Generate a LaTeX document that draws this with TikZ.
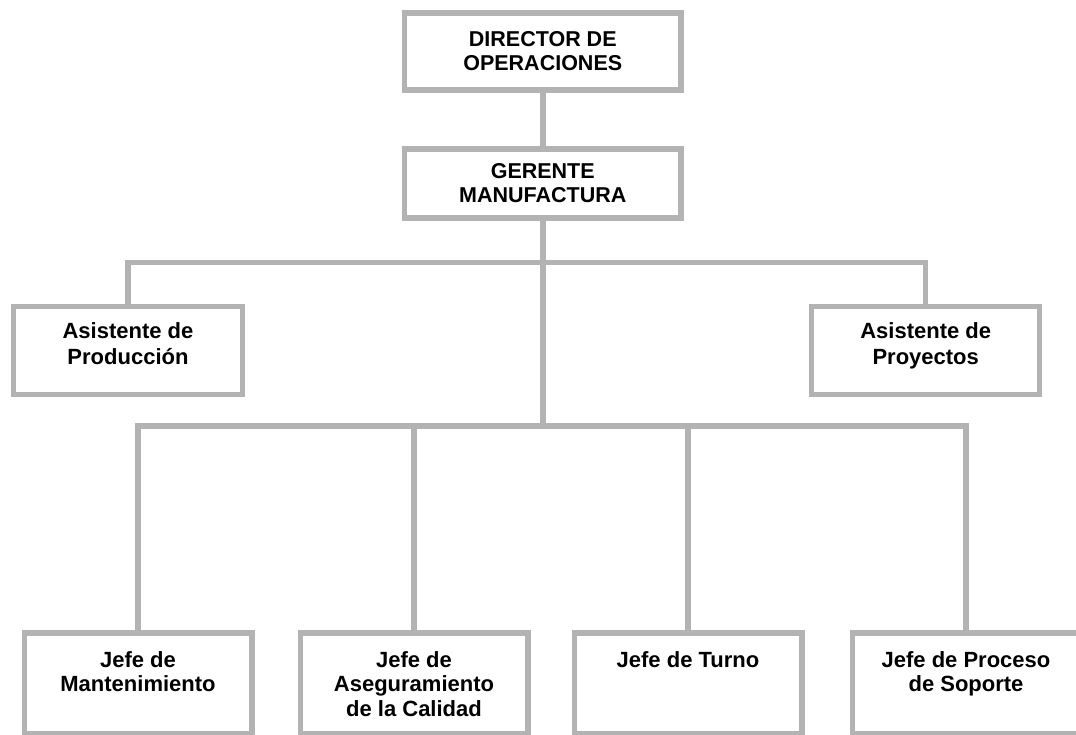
\documentclass[tikz,border=0pt]{standalone}
\usepackage{fontspec}
\setmainfont{Liberation Sans}
\usetikzlibrary{backgrounds}
\definecolor{linegrey}{HTML}{B3B3B3}
\begin{document}
\begin{tikzpicture}[x=1pt,y=-1pt,
  conn/.style={draw=linegrey,line width=5.5pt,line join=miter},
  orgbox/.style={draw=linegrey,fill=white,line width=5.5pt,rectangle,inner sep=0pt},
  lbl/.style={align=center,inner sep=0pt,anchor=north,font=\bfseries\fontsize{22}{24.5}\selectfont},
  caplbl/.style={lbl,font=\bfseries\fontsize{21.5}{24}\selectfont},
  asilbl/.style={lbl,font=\bfseries\fontsize{22}{26}\selectfont}]
\useasboundingbox (0,0) rectangle (1076,734);
\clip (0,0) rectangle (1076,734);
% boxes
\node[orgbox,minimum width=276.5pt,minimum height=77pt] (dir) at (542.75,51.5) {};
\node[orgbox,minimum width=276.5pt,minimum height=69pt] (ger) at (542.75,183.5) {};
\node[orgbox,minimum width=229pt,minimum height=88pt] (ap) at (128,350.25) {};
\node[orgbox,minimum width=228pt,minimum height=88pt] (apr) at (925.7,350.25) {};
\node[orgbox,minimum width=227.5pt,minimum height=101pt] (m1) at (138,683.5) {};
\node[orgbox,minimum width=227.5pt,minimum height=101pt] (m2) at (414,683.5) {};
\node[orgbox,minimum width=227.5pt,minimum height=101pt] (m3) at (688,683.5) {};
\node[orgbox,minimum width=227.5pt,minimum height=101pt] (m4) at (966,683.5) {};
\coordinate (b1) at (542.75,262.6);
\coordinate (b2) at (542.75,426.2);
% connectors behind the boxes
\begin{scope}[on background layer]
\path[conn] (dir.south) -- (ger.north);
\path[conn] (ger.south) -- (b2);
\path[conn] (ap.north) |- (b1) -| (apr.north);
\path[conn] (m1.north) |- (b2) -| (m4.north);
\path[conn] (m2.north) -- (m2.north |- b2);
\path[conn] (m3.north) -- (m3.north |- b2);
\end{scope}
% labels
\node[caplbl] (tdir) at (542.75,31.6) {DIRECTOR DE\\OPERACIONES};
\node[caplbl] (tger) at (542.75,163.3) {GERENTE\\MANUFACTURA};
\node[asilbl] (tap) at (128,322.5) {Asistente de\\Producción};
\node[asilbl] (tapr) at (925.7,322.5) {Asistente de\\Proyectos};
\node[lbl] (tm1) at (138,651.3) {Jefe de\\Mantenimiento};
\node[lbl] (tm2) at (414,651.3) {Jefe de\\Aseguramiento\\de la Calidad};
\node[lbl] (tm3) at (688,651.3) {Jefe de Turno};
\node[lbl] (tm4) at (966,651.3) {Jefe de Proceso\\de Soporte};
\end{tikzpicture}
\end{document}
